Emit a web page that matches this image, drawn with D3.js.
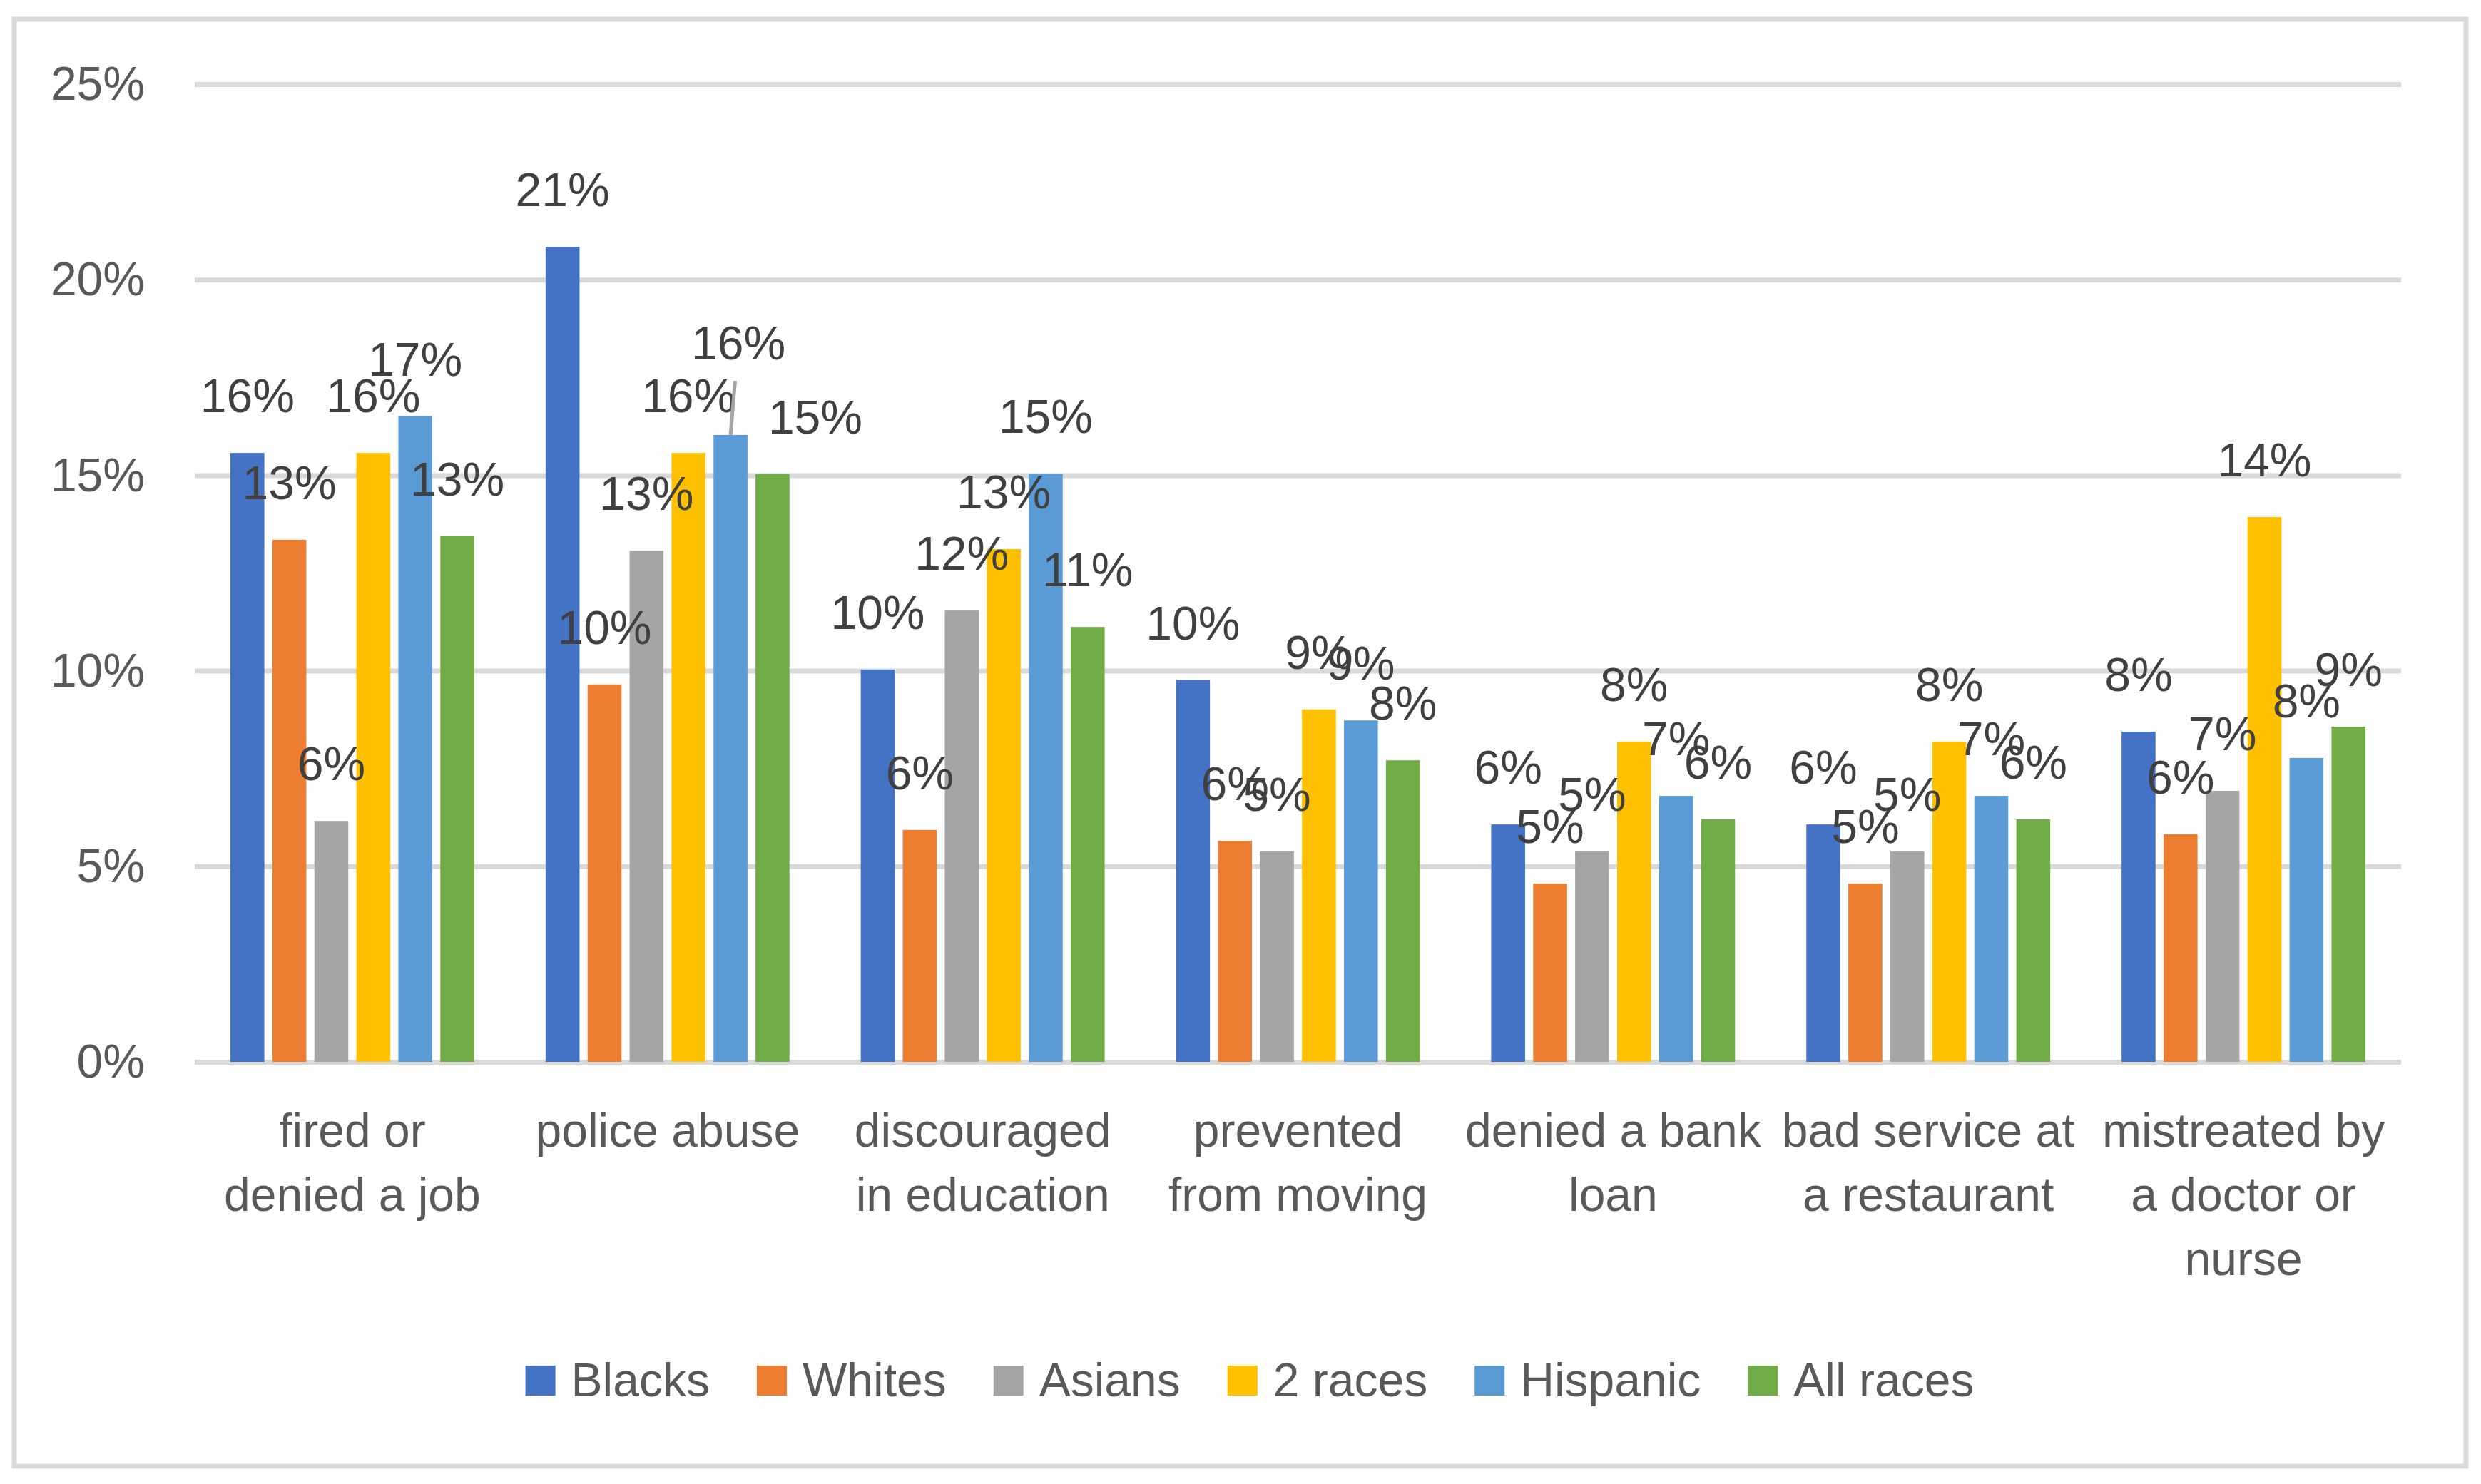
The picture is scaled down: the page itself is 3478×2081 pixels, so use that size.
<!DOCTYPE html>
<html>
<head>
<meta charset="utf-8">
<script src="https://cdn.jsdelivr.net/npm/d3@7"></script>
<style>
  html, body { margin: 0; padding: 0; background: #ffffff; }
  svg { display: block; }
  text { font-family: "Liberation Sans", Arial, sans-serif; }
</style>
</head>
<body>
<svg id="chart" width="3478" height="2081"></svg>
<script>
// ---------------- data ----------------
const categories = [
  "fired or denied a job", "police abuse", "discouraged in education",
  "prevented from moving", "denied a bank loan", "bad service at a restaurant",
  "mistreated by a doctor or nurse"
];
const categoryLines = [
  ["fired or", "denied a job"],
  ["police abuse"],
  ["discouraged", "in education"],
  ["prevented", "from moving"],
  ["denied a bank", "loan"],
  ["bad service at", "a restaurant"],
  ["mistreated by", "a doctor or", "nurse"]
];
const seriesNames = ["Blacks", "Whites", "Asians", "2 races", "Hispanic", "All races"];
const blacks   = [15.57, 20.84, 10.03, 9.76, 6.07, 6.07, 8.44];
const whites   = [13.35, 9.65, 5.93, 5.65, 4.56, 4.56, 5.82];
const asians   = [6.16, 13.07, 11.54, 5.38, 5.38, 5.38, 6.93];
const twoRaces = [15.57, 15.57, 13.11, 9.01, 8.19, 8.19, 13.93];
const hispanic = [16.51, 16.03, 15.04, 8.73, 6.80, 6.80, 7.77];
const allRaces = [13.44, 15.03, 11.12, 7.71, 6.20, 6.20, 8.57];
const yTicks = [0, 5, 10, 15, 20, 25];
const colors = ["#4472C4", "#ED7D31", "#A5A5A5", "#FFC000", "#5B9BD5", "#70AD47"];
// label nudges (Excel moved these two labels by hand)
const labelNudges = [
  { cat: 1, series: 4, dx: 11, dy: -49, leader: true },
  { cat: 1, series: 5, dx: 60, dy: 0, leader: false }
];

const seriesValues = [blacks, whites, asians, twoRaces, hispanic, allRaces];
const table = [];
categories.forEach((c, ci) => {
  seriesValues.forEach((arr, si) => {
    table.push({ cat: c, ci, si, series: seriesNames[si], value: arr[ci] });
  });
});

// ---------------- layout ----------------
const svg = d3.select("#chart");
const plot = { left: 273, right: 3366, top: 118, bottom: 1489 };
const FONT = 66;

// chart border
svg.append("rect")
  .attr("x", 20).attr("y", 27).attr("width", 3437).attr("height", 2029)
  .attr("fill", "#ffffff").attr("stroke", "#D9D9D9").attr("stroke-width", 7);

const y = d3.scaleLinear().domain([0, 25]).range([plot.bottom, plot.top]);
const x0 = d3.scaleBand().domain(categories).range([plot.left, plot.right]).padding(0);
const groupPad = 50;
const x1 = d3.scaleBand().domain(seriesNames)
  .range([groupPad, x0.bandwidth() - groupPad]).paddingInner(0.192).paddingOuter(0);

// y axis with gridlines
const yAxis = d3.axisLeft(y).tickValues(yTicks).tickFormat(d => d + "%")
  .tickSize(-(plot.right - plot.left)).tickPadding(70);
const gy = svg.append("g").attr("transform", `translate(${plot.left},0)`).call(yAxis);
gy.select(".domain").remove();
gy.selectAll(".tick line").attr("stroke", "#D9D9D9").attr("stroke-width", 7);
gy.selectAll(".tick text").attr("fill", "#595959").attr("font-size", FONT)
  .attr("font-family", "Liberation Sans, Arial, sans-serif").attr("dy", "0.33em");

// bars
const groups = svg.append("g").selectAll("g")
  .data(categories).join("g")
  .attr("transform", d => `translate(${x0(d)},0)`);

groups.selectAll("rect")
  .data(c => table.filter(t => t.cat === c))
  .join("rect")
  .attr("x", d => x1(d.series))
  .attr("width", x1.bandwidth())
  .attr("y", d => y(d.value))
  .attr("height", d => y(0) - y(d.value))
  .attr("fill", d => colors[d.si]);

// data labels
const labelGap = 57;
table.forEach(d => {
  const nudge = labelNudges.find(n => n.cat === d.ci && n.series === d.si);
  const cx = x0(d.cat) + x1(d.series) + x1.bandwidth() / 2;
  const top = y(d.value);
  const lx = cx + (nudge ? nudge.dx : 0);
  const ly = top - labelGap + (nudge ? nudge.dy : 0);
  if (nudge && nudge.leader) {
    svg.append("line")
      .attr("x1", lx - 4.5).attr("y1", ly + 30)
      .attr("x2", cx).attr("y2", top)
      .attr("stroke", "#A6A6A6").attr("stroke-width", 5);
  }
  svg.append("text")
    .attr("x", lx).attr("y", ly)
    .attr("text-anchor", "middle")
    .attr("font-size", FONT).attr("fill", "#404040")
    .text(Math.round(d.value) + "%");
});

// x axis (category labels)
const xAxis = d3.axisBottom(x0).tickSize(0).tickFormat("");
const gx = svg.append("g").attr("transform", `translate(0,${plot.bottom})`).call(xAxis);
gx.select(".domain").remove();
gx.selectAll(".tick").each(function (c) {
  const lines = categoryLines[categories.indexOf(c)];
  const t = d3.select(this).select("text")
    .attr("y", 0).attr("dy", 0)
    .attr("font-size", FONT).attr("fill", "#595959")
    .attr("font-family", "Liberation Sans, Arial, sans-serif");
  lines.forEach((ln, i) => {
    t.append("tspan").attr("x", 0).attr("y", 119 + i * 90).text(ln);
  });
});

// legend
const legend = svg.append("g");
const sq = 42, gapText = 22, gapItem = 66;
let cursor = 0;
seriesNames.forEach((s, i) => {
  const g = legend.append("g");
  g.append("rect").attr("x", 0).attr("y", -sq / 2).attr("width", sq).attr("height", sq)
    .attr("fill", colors[i]);
  const t = g.append("text").attr("x", sq + gapText).attr("y", 22)
    .attr("font-size", FONT).attr("fill", "#595959").text(s);
  const w = sq + gapText + t.node().getComputedTextLength();
  g.attr("transform", `translate(${cursor},0)`);
  cursor += w + gapItem;
});
const totalW = cursor - gapItem;
legend.attr("transform", `translate(${1752 - totalW / 2},1936)`);
</script>
</body>
</html>
